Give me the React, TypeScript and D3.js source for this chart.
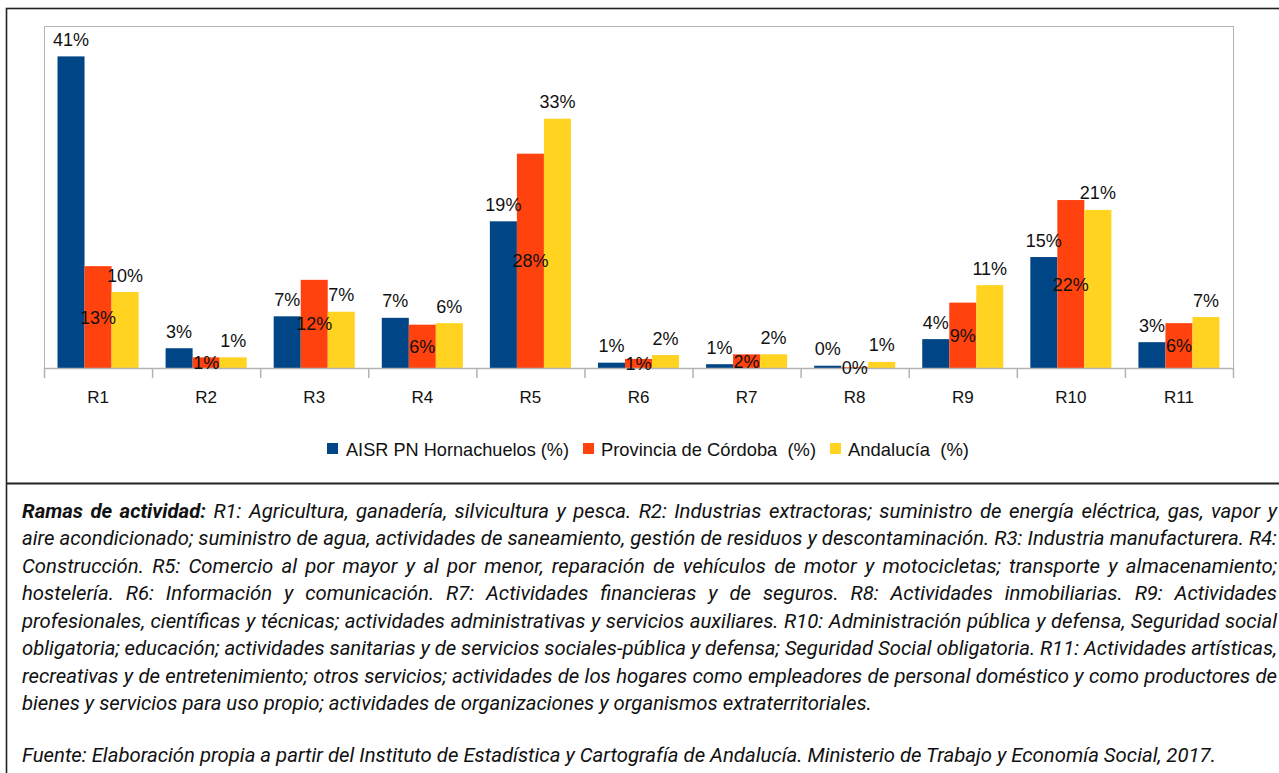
import React, { useEffect, useRef } from "react";
import * as d3 from "d3";

const categories = ["R1", "R2", "R3", "R4", "R5", "R6", "R7", "R8", "R9", "R10", "R11"];
const seriesNames = ["AISR PN Hornachuelos (%)", "Provincia de Córdoba  (%)", "Andalucía  (%)"];
const aisrValues = [41.0, 2.6, 6.8, 6.6, 19.3, 0.7, 0.5, 0.3, 3.8, 14.6, 3.4];
const cordobaValues = [13.4, 1.4, 11.6, 5.7, 28.2, 1.2, 1.8, 0.1, 8.6, 22.1, 5.9];
const andaluciaValues = [10.0, 1.4, 7.4, 5.9, 32.8, 1.7, 1.8, 0.8, 10.9, 20.8, 6.7];
const seriesColors = ["#004586", "#ff420e", "#ffd320"];
const yDomainMax = 45;

const noteLines = [
  "Ramas de actividad: R1: Agricultura, ganadería, silvicultura y pesca. R2: Industrias extractoras; suministro de energía eléctrica, gas, vapor y",
  "aire acondicionado; suministro de agua, actividades de saneamiento, gestión de residuos y descontaminación. R3: Industria manufacturera. R4:",
  "Construcción. R5: Comercio al por mayor y al por menor, reparación de vehículos de motor y motocicletas; transporte y almacenamiento;",
  "hostelería. R6: Información y comunicación. R7: Actividades financieras y de seguros. R8: Actividades inmobiliarias. R9: Actividades",
  "profesionales, científicas y técnicas; actividades administrativas y servicios auxiliares. R10: Administración pública y defensa, Seguridad social",
  "obligatoria; educación; actividades sanitarias y de servicios sociales-pública y defensa; Seguridad Social obligatoria. R11: Actividades artísticas,",
  "recreativas y de entretenimiento; otros servicios; actividades de los hogares como empleadores de personal doméstico y como productores de",
  "bienes y servicios para uso propio; actividades de organizaciones y organismos extraterritoriales.",
];
const boldWordCount = 3;
const sourceLine =
  "Fuente: Elaboración propia a partir del Instituto de Estadística y Cartografía de Andalucía. Ministerio de Trabajo y Economía Social, 2017.";

export default function App() {
  const ref = useRef<SVGSVGElement>(null);

  useEffect(() => {
    const svg = d3.select(ref.current);
    svg.selectAll("*").remove();

    const W = 1279;
    const plot = { left: 44, right: 1233, top: 26, bottom: 368 };

    // outer frame
    svg.append("rect").attr("x", 0).attr("y", 0).attr("width", W).attr("height", 773).attr("fill", "#fff");
    svg
      .append("rect")
      .attr("x", 6.5)
      .attr("y", 8.5)
      .attr("width", 1290)
      .attr("height", 800)
      .attr("fill", "none")
      .attr("stroke", "#222")
      .attr("stroke-width", 1.6);
    svg
      .append("line")
      .attr("x1", 6)
      .attr("x2", 1290)
      .attr("y1", 483.5)
      .attr("y2", 483.5)
      .attr("stroke", "#222")
      .attr("stroke-width", 1.8);

    const data = [aisrValues, cordobaValues, andaluciaValues];

    const x0 = d3.scaleBand<string>().domain(categories).range([plot.left, plot.right]).paddingInner(0).paddingOuter(0);
    const x1 = d3
      .scaleBand<number>()
      .domain([0, 1, 2])
      .range([0, x0.bandwidth()])
      .paddingInner(0)
      .paddingOuter(0.5);
    const y = d3.scaleLinear().domain([0, yDomainMax]).range([plot.bottom, plot.top]);

    // plot frame
    const grey = "#b3b3b3";
    svg
      .append("rect")
      .attr("x", plot.left + 0.5)
      .attr("y", plot.top + 0.5)
      .attr("width", plot.right - plot.left)
      .attr("height", plot.bottom - plot.top)
      .attr("fill", "none")
      .attr("stroke", grey)
      .attr("stroke-width", 1);

    // bars
    const g = svg.append("g");
    categories.forEach((c, ci) => {
      data.forEach((series, si) => {
        const v = series[ci];
        g.append("rect")
          .attr("x", (x0(c) as number) + (x1(si) as number))
          .attr("y", y(v))
          .attr("width", x1.bandwidth())
          .attr("height", y(0) - y(v))
          .attr("fill", seriesColors[si]);
      });
    });

    // axis baseline + ticks
    svg
      .append("line")
      .attr("x1", plot.left)
      .attr("x2", plot.right + 1)
      .attr("y1", plot.bottom + 0.5)
      .attr("y2", plot.bottom + 0.5)
      .attr("stroke", grey)
      .attr("stroke-width", 1.5);
    const tickPositions = categories.map((c) => x0(c) as number).concat([plot.right]);
    tickPositions.forEach((tx) => {
      svg
        .append("line")
        .attr("x1", tx + 0.5)
        .attr("x2", tx + 0.5)
        .attr("y1", plot.bottom)
        .attr("y2", plot.bottom + 10)
        .attr("stroke", grey)
        .attr("stroke-width", 1.5);
    });

    // category labels
    categories.forEach((c) => {
      svg
        .append("text")
        .attr("x", (x0(c) as number) + x0.bandwidth() / 2)
        .attr("y", 403)
        .attr("text-anchor", "middle")
        .attr("font-family", "Liberation Sans, Arial, sans-serif")
        .attr("font-size", 17)
        .attr("fill", "#111")
        .text(c);
    });

    // data labels
    categories.forEach((c, ci) => {
      data.forEach((series, si) => {
        const v = series[ci];
        const cx = (x0(c) as number) + (x1(si) as number) + x1.bandwidth() / 2;
        const yy = si === 1 ? (y(v) + y(0)) / 2 + 6.5 : y(v) - 10.5;
        svg
          .append("text")
          .attr("x", cx)
          .attr("y", yy)
          .attr("text-anchor", "middle")
          .attr("font-family", "Liberation Sans, Arial, sans-serif")
          .attr("font-size", 18)
          .attr("fill", "#111")
          .text(`${Math.round(v)}%`);
      });
    });

    // legend
    const legendItems = [
      { sq: 327, tx: 346, tw: 223 },
      { sq: 583, tx: 601, tw: 215 },
      { sq: 830, tx: 848, tw: 121 },
    ];
    legendItems.forEach((li, i) => {
      svg
        .append("rect")
        .attr("x", li.sq)
        .attr("y", 443)
        .attr("width", 11)
        .attr("height", 11)
        .attr("fill", seriesColors[i]);
      svg
        .append("text")
        .attr("x", li.tx)
        .attr("y", 456)
        .attr("font-family", "Liberation Sans, Arial, sans-serif")
        .attr("font-size", 19)
        .attr("fill", "#111")
        .attr("textLength", li.tw)
        .attr("lengthAdjust", "spacingAndGlyphs")
        .style("white-space", "pre")
        .text(seriesNames[i]);
    });

    // notes
    const noteFont = "Roboto, 'Liberation Sans', sans-serif";
    const noteSize = 21;
    const notes = svg.append("g");
    const measure = (word: string, bold: boolean) => {
      const t = notes
        .append("text")
        .attr("font-family", noteFont)
        .attr("font-size", noteSize)
        .attr("font-style", "italic")
        .attr("font-weight", bold ? 700 : 400)
        .style("white-space", "pre")
        .text(word);
      const w = (t.node() as SVGTextElement).getComputedTextLength();
      t.remove();
      return w;
    };
    const srcNatural = measure(sourceLine, false);
    const k = (1217 - 22) / srcNatural;
    notes.attr("transform", `translate(22,0) scale(${k},1)`);
    const spaceW = measure("a a", false) - measure("aa", false);
    const target = (1277 - 22) / k;
    const lineStart = 518;
    const lineStep = 27.5;

    noteLines.forEach((line, li) => {
      const words = line.split(" ");
      const isBold = (wi: number) => li === 0 && wi < boldWordCount;
      const widths = words.map((w, wi) => measure(w, isBold(wi)));
      const total = d3.sum(widths);
      const justified = li < noteLines.length - 1;
      const gap = justified ? (target - total) / (words.length - 1) : spaceW;
      const t = notes
        .append("text")
        .attr("y", lineStart + li * lineStep)
        .attr("font-family", noteFont)
        .attr("font-size", noteSize)
        .attr("font-style", "italic")
        .attr("fill", "#111");
      let cx = 0;
      words.forEach((w, wi) => {
        t.append("tspan")
          .attr("x", cx)
          .attr("font-weight", isBold(wi) ? 700 : 400)
          .text(w);
        cx += widths[wi] + gap;
      });
    });

    notes
      .append("text")
      .attr("x", 0)
      .attr("y", 762)
      .attr("font-family", noteFont)
      .attr("font-size", noteSize)
      .attr("font-style", "italic")
      .attr("fill", "#111")
      .text(sourceLine);
  }, []);

  return (
    <svg
      ref={ref}
      width={1279}
      height={773}
      style={{ position: "absolute", left: 0, top: 0, display: "block" }}
    />
  );
}
